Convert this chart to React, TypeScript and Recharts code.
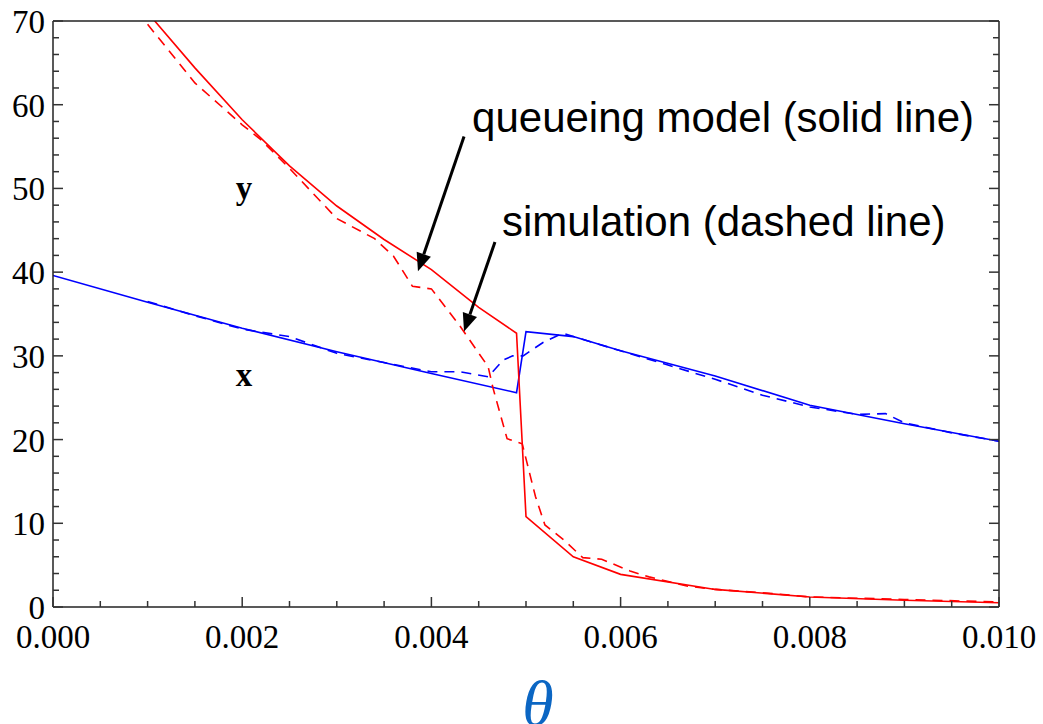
import {
  LineChart,
  Line,
  XAxis,
  YAxis,
  ReferenceLine,
  ReferenceDot,
} from 'recharts';

// theta values and readings
const modelXTheta = [0, 0.001, 0.002, 0.003, 0.004, 0.0049, 0.005, 0.0055, 0.006, 0.007, 0.008, 0.009, 0.01];
const modelX = [39.6, 36.4, 33.3, 30.5, 27.9, 25.6, 32.9, 32.3, 30.6, 27.6, 24.1, 21.9, 19.8];

const modelYTheta = [0.001, 0.0015, 0.002, 0.0025, 0.003, 0.0035, 0.004, 0.0045, 0.0049, 0.005, 0.0055, 0.006, 0.007, 0.008, 0.009, 0.01];
const modelY = [71.0, 64.4, 58.2, 52.7, 47.9, 43.9, 40.3, 35.8, 32.7, 10.8, 6.0, 3.9, 2.1, 1.2, 0.8, 0.5];

const simXTheta = [0.001, 0.0015, 0.002, 0.0025, 0.003, 0.0035, 0.004, 0.0043, 0.0046, 0.00476, 0.00486, 0.00497, 0.00518, 0.00539, 0.0055, 0.006, 0.0065, 0.007, 0.0075, 0.008, 0.0085, 0.0088, 0.009, 0.0095, 0.01];
const simX = [36.5, 34.8, 33.2, 32.3, 30.3, 29.2, 28.1, 28.1, 27.5, 29.5, 30.0, 30.0, 31.6, 32.7, 32.3, 30.6, 28.9, 27.2, 25.3, 23.9, 23.0, 23.1, 22.0, 20.8, 19.8];

const simYTheta = [0.001, 0.0015, 0.002, 0.0022, 0.0025, 0.003, 0.0034, 0.0036, 0.0038, 0.004, 0.0043, 0.0046, 0.00465, 0.0048, 0.00496, 0.0051, 0.0052, 0.0054, 0.0056, 0.0058, 0.0061, 0.0063, 0.0067, 0.007, 0.0075, 0.008, 0.009, 0.01];
const simY = [69.6, 62.6, 57.6, 55.8, 52.4, 46.4, 44.0, 41.9, 38.3, 38.0, 33.6, 28.7, 26.2, 20.1, 19.5, 13.2, 9.8, 8.0, 5.9, 5.7, 4.3, 3.6, 2.5, 2.1, 1.7, 1.2, 0.9, 0.6];

const xTicks = [0, 0.0005, 0.001, 0.0015, 0.002, 0.0025, 0.003, 0.0035, 0.004, 0.0045, 0.005, 0.0055, 0.006, 0.0065, 0.007, 0.0075, 0.008, 0.0085, 0.009, 0.0095, 0.01];
const xMajor = [0, 0.002, 0.004, 0.006, 0.008, 0.01];
const yTicks = [0, 2, 4, 6, 8, 10, 12, 14, 16, 18, 20, 22, 24, 26, 28, 30, 32, 34, 36, 38, 40, 42, 44, 46, 48, 50, 52, 54, 56, 58, 60, 62, 64, 66, 68, 70];
const yMajor = [0, 10, 20, 30, 40, 50, 60, 70];

const toRows = (theta: number[], vals: number[]) => theta.map((t, i) => ({ t, v: vals[i] }));

const isMajor = (v: number, list: number[]) => list.some((m) => Math.abs(m - v) < 1e-9);

const TICK = '#333';
const SERIF = '"Liberation Serif", "Times New Roman", serif';
const SANS = '"Liberation Sans", Arial, sans-serif';

const BottomTick = ({ x, y, payload }: any) => {
  const major = isMajor(payload.value, xMajor);
  return (
    <g>
      <line x1={x} y1={y} x2={x} y2={y - (major ? 10 : 6)} stroke={TICK} strokeWidth={1.5} />
      {major && (
        <text x={x} y={y + 41} textAnchor="middle" fontFamily={SERIF} fontSize={33} fill="#000">
          {payload.value.toFixed(3)}
        </text>
      )}
    </g>
  );
};

const TopTick = ({ x, y, payload }: any) => {
  const major = isMajor(payload.value, xMajor);
  return <line x1={x} y1={y} x2={x} y2={y + (major ? 10 : 6)} stroke={TICK} strokeWidth={1.5} />;
};

const LeftTick = ({ x, y, payload }: any) => {
  const major = isMajor(payload.value, yMajor);
  return (
    <g>
      <line x1={x} y1={y} x2={x + (major ? 10 : 6)} y2={y} stroke={TICK} strokeWidth={1.5} />
      {major && (
        <text x={x - 8} y={y + 12} textAnchor="end" fontFamily={SERIF} fontSize={33} fill="#000">
          {payload.value}
        </text>
      )}
    </g>
  );
};

const RightTick = ({ x, y, payload }: any) => {
  const major = isMajor(payload.value, yMajor);
  return <line x1={x} y1={y} x2={x - (major ? 10 : 6)} y2={y} stroke={TICK} strokeWidth={1.5} />;
};

const Arrow = (props: any) => {
  const { x1, y1, x2, y2 } = props;
  const dx = x2 - x1;
  const dy = y2 - y1;
  const len = Math.sqrt(dx * dx + dy * dy);
  const ux = dx / len;
  const uy = dy / len;
  const head = 18;
  const half = 7.5;
  const bx = x2 - ux * head;
  const by = y2 - uy * head;
  return (
    <g>
      <line x1={x1} y1={y1} x2={bx} y2={by} stroke="#000" strokeWidth={3} />
      <polygon
        points={`${x2},${y2} ${bx - uy * half},${by + ux * half} ${bx + uy * half},${by - ux * half}`}
        fill="#000"
      />
    </g>
  );
};

const note = (text: string, family: string, size: number, anchor: string, weight = 'normal') => (props: any) => (
  <text
    x={props.cx}
    y={props.cy}
    textAnchor={anchor}
    fontFamily={family}
    fontSize={size}
    fontWeight={weight}
    fill="#000"
  >
    {text}
  </text>
);

const ThetaLabel = (props: any) => {
  const { x, y, width, height } = props.viewBox;
  return (
    <text
      x={x + width / 2 + 12}
      y={y + height + 1}
      textAnchor="middle"
      fontFamily={SERIF}
      fontStyle="italic"
      fontSize={64}
      fill="#0b66c3"
    >
      θ
    </text>
  );
};

export default function App() {
  return (
    <div style={{ position: 'absolute', left: 0, top: 0, width: 1043, height: 724, background: '#fff' }}>
      <LineChart width={1043} height={724} margin={{ top: 0, right: 0, bottom: 0, left: 0 }}>
        <XAxis
          xAxisId="b"
          dataKey="t"
          type="number"
          domain={[0, 0.01]}
          ticks={xTicks}
          interval={0}
          height={117}
          tickSize={0}
          tickMargin={0}
          tickLine={false}
          tick={<BottomTick />}
          axisLine={{ stroke: '#222', strokeWidth: 1.5 }}
          allowDataOverflow
          label={<ThetaLabel />}
        />
        <XAxis
          xAxisId="top"
          orientation="top"
          type="number"
          domain={[0, 0.01]}
          ticks={xTicks}
          interval={0}
          height={21}
          tickSize={0}
          tickMargin={0}
          tickLine={false}
          tick={<TopTick />}
          axisLine={{ stroke: '#222', strokeWidth: 1.5 }}
          allowDataOverflow
        />
        <YAxis
          yAxisId="l"
          type="number"
          domain={[0, 70]}
          ticks={yTicks}
          interval={0}
          width={53}
          tickSize={0}
          tickMargin={0}
          tickLine={false}
          tick={<LeftTick />}
          axisLine={{ stroke: '#222', strokeWidth: 1.5 }}
          allowDataOverflow
        />
        <YAxis
          yAxisId="r"
          orientation="right"
          type="number"
          domain={[0, 70]}
          ticks={yTicks}
          interval={0}
          width={44}
          tickSize={0}
          tickMargin={0}
          tickLine={false}
          tick={<RightTick />}
          axisLine={{ stroke: '#222', strokeWidth: 1.5 }}
          allowDataOverflow
        />

        <Line
          xAxisId="b"
          yAxisId="l"
          data={toRows(modelXTheta, modelX)}
          dataKey="v"
          type="linear"
          stroke="#0000ff"
          strokeWidth={1.6}
          dot={false}
          activeDot={false}
          isAnimationActive={false}
        />
        <Line
          xAxisId="b"
          yAxisId="l"
          data={toRows(simXTheta, simX)}
          dataKey="v"
          type="linear"
          stroke="#0000ff"
          strokeWidth={1.6}
          strokeDasharray="10 7"
          dot={false}
          activeDot={false}
          isAnimationActive={false}
        />
        <Line
          xAxisId="b"
          yAxisId="l"
          data={toRows(modelYTheta, modelY)}
          dataKey="v"
          type="linear"
          stroke="#ff0000"
          strokeWidth={1.6}
          dot={false}
          activeDot={false}
          isAnimationActive={false}
        />
        <Line
          xAxisId="b"
          yAxisId="l"
          data={toRows(simYTheta, simY)}
          dataKey="v"
          type="linear"
          stroke="#ff0000"
          strokeWidth={1.6}
          strokeDasharray="10 7"
          dot={false}
          activeDot={false}
          isAnimationActive={false}
        />

        <ReferenceLine
          xAxisId="b"
          yAxisId="l"
          segment={[{ x: 0.004345, y: 56.2 }, { x: 0.003858, y: 40.1 }]}
          shape={<Arrow />}
          ifOverflow="visible"
        />
        <ReferenceLine
          xAxisId="b"
          yAxisId="l"
          segment={[{ x: 0.004672, y: 43.6 }, { x: 0.004345, y: 32.9 }]}
          shape={<Arrow />}
          ifOverflow="visible"
        />
        <ReferenceDot xAxisId="b" yAxisId="l" x={0.00443} y={56.7} r={0}
          shape={note('queueing model (solid line)', SANS, 42, 'start')} ifOverflow="visible" />
        <ReferenceDot xAxisId="b" yAxisId="l" x={0.004746} y={44.3} r={0}
          shape={note('simulation (dashed line)', SANS, 42, 'start')} ifOverflow="visible" />
        <ReferenceDot xAxisId="b" yAxisId="l" x={0.00202} y={48.7} r={0}
          shape={note('y', SERIF, 33, 'middle', 'bold')} ifOverflow="visible" />
        <ReferenceDot xAxisId="b" yAxisId="l" x={0.00202} y={26.4} r={0}
          shape={note('x', SERIF, 33, 'middle', 'bold')} ifOverflow="visible" />
      </LineChart>
    </div>
  );
}
